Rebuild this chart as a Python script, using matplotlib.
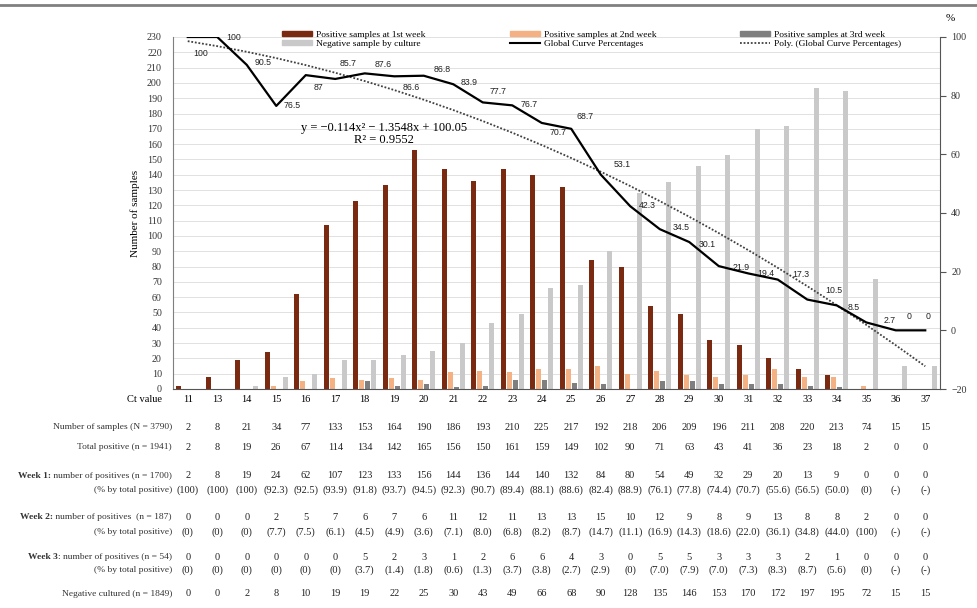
import matplotlib
matplotlib.use('Agg')
import matplotlib.pyplot as plt
import matplotlib.transforms as mtransforms
from matplotlib.lines import Line2D
from matplotlib.patches import Patch
import numpy as np

plt.rcParams['font.family'] = 'Liberation Serif'

# ---- data ----
ct_values = [11, 13, 14, 15, 16, 17, 18, 19, 20, 21, 22, 23, 24, 25, 26,
             27, 28, 29, 30, 31, 32, 33, 34, 35, 36, 37]
n_samples = [2, 8, 21, 34, 77, 133, 153, 164, 190, 186, 193, 210, 225, 217,
             192, 218, 206, 209, 196, 211, 208, 220, 213, 74, 15, 15]
total_pos = [2, 8, 19, 26, 67, 114, 134, 142, 165, 156, 150, 161, 159, 149,
             102, 90, 71, 63, 43, 41, 36, 23, 18, 2, 0, 0]
week1 = [2, 8, 19, 24, 62, 107, 123, 133, 156, 144, 136, 144, 140, 132,
         84, 80, 54, 49, 32, 29, 20, 13, 9, 0, 0, 0]
week1_pct = [100, 100, 100, 92.3, 92.5, 93.9, 91.8, 93.7, 94.5, 92.3, 90.7,
             89.4, 88.1, 88.6, 82.4, 88.9, 76.1, 77.8, 74.4, 70.7, 55.6, 56.5,
             50.0, 0, None, None]
week2 = [0, 0, 0, 2, 5, 7, 6, 7, 6, 11, 12, 11, 13, 13, 15, 10, 12, 9, 8, 9,
         13, 8, 8, 2, 0, 0]
week2_pct = [0, 0, 0, 7.7, 7.5, 6.1, 4.5, 4.9, 3.6, 7.1, 8.0, 6.8, 8.2, 8.7,
             14.7, 11.1, 16.9, 14.3, 18.6, 22.0, 36.1, 34.8, 44.0, 100, None, None]
week3 = [0, 0, 0, 0, 0, 0, 5, 2, 3, 1, 2, 6, 6, 4, 3, 0, 5, 5, 3, 3, 3, 2, 1,
         0, 0, 0]
week3_pct = [0, 0, 0, 0, 0, 0, 3.7, 1.4, 1.8, 0.6, 1.3, 3.7, 3.8, 2.7, 2.9, 0,
             7.0, 7.9, 7.0, 7.3, 8.3, 8.7, 5.6, 0, None, None]
negative = [0, 0, 2, 8, 10, 19, 19, 22, 25, 30, 43, 49, 66, 68, 90, 128, 135,
            146, 153, 170, 172, 197, 195, 72, 15, 15]
global_pct = [100, 100, 90.5, 76.5, 87, 85.7, 87.6, 86.6, 86.8, 83.9, 77.7,
              76.7, 70.7, 68.7, 53.1, 42.3, 34.5, 30.1, 21.9, 19.4, 17.3, 10.5,
              8.5, 2.7, 0, 0]

# label offsets (pixels) for the percentage data labels
label_offsets = [(13, -16), (16, 0), (16, 2), (16, 0), (13, -12), (13, 15),
                 (18, 9), (17, -11), (18, 6), (16, 2), (15, 11), (17, 1),
                 (16, -10), (14, 12), (21, 10), (17, 1), (21, 2), (18, -2),
                 (22, -1), (18, 0), (23, 5), (27, 9), (17, -2), (23, 2),
                 (13, 14), (3, 14)]

c_wk1 = '#7B2A12'
c_wk2 = '#F4B183'
c_wk3 = '#7F7F7F'
c_neg = '#C9C9C9'

W, H = 978, 608
fig = plt.figure(figsize=(W / 100, H / 100), dpi=100)
ax = fig.add_axes([173 / W, 1 - 389 / H, (940 - 173) / W, (389 - 37) / H])

x = np.arange(len(ct_values))
bw = 0.17
ax.bar(x - 0.3, week1, bw, color=c_wk1, zorder=2)
ax.bar(x - 0.1, week2, bw, color=c_wk2, zorder=2)
ax.bar(x + 0.1, week3, bw, color=c_wk3, zorder=2)
ax.bar(x + 0.3, negative, bw, color=c_neg, zorder=2)

ax.set_xlim(-0.5, len(ct_values) - 0.5)
ax.set_ylim(0, 230)
ax.set_yticks(range(0, 231, 10))
ax.grid(axis='y', color='#DCDCDC', lw=0.6, zorder=0)
ax.set_axisbelow(True)
ax.set_xticks(x)
ax.set_xticklabels([str(c) for c in ct_values], fontsize=7.5)
ax.tick_params(axis='x', length=0, pad=4)
ax.tick_params(axis='y', length=0, pad=8, labelsize=7.2, labelcolor='#333333')
for s in ['top', 'right']:
    ax.spines[s].set_visible(False)
ax.spines['left'].set_color('#7F7F7F')
ax.spines['bottom'].set_color('#555555')
ax.set_ylabel('Number of samples', fontsize=8, labelpad=5)

ax2 = ax.twinx()
ax2.set_ylim(-20, 100)
ax2.set_yticks(range(-20, 101, 20))
ax2.tick_params(axis='y', length=4, width=0.8, color='#555555', pad=4,
                labelsize=7.2, labelcolor='#333333')
for s in ['top', 'left', 'bottom']:
    ax2.spines[s].set_visible(False)
ax2.spines['right'].set_color('#555555')
ax2.text(1.013, 1.045, '%', transform=ax2.transAxes, fontsize=8, ha='center')

ax2.plot(x, global_pct, color='black', lw=1.6, zorder=4)
xi = x + 1
coef = np.polyfit(xi, global_pct, 2)
ax2.plot(x, np.polyval(coef, xi), color='#404040', lw=1.3, ls=(0, (1, 1)), zorder=3)

for i, v in enumerate(global_pct):
    dx, dy = label_offsets[i]
    ax2.annotate(f'{v:g}', (x[i], v), xytext=(dx * 0.72, dy * 0.72),
                 textcoords='offset points', ha='center', va='center',
                 fontsize=6.3, family='Liberation Sans', color='#222222')

ax2.text(0.275, 0.725, 'y = \u22120.114x\u00b2 \u2212 1.3548x + 100.05\nR\u00b2 = 0.9552',
         transform=ax2.transAxes, ha='center', va='center', fontsize=9,
         linespacing=1.0)

# legend (three columns)
leg_cols = [
    [Patch(color=c_wk1), Patch(color=c_neg)],
    [Patch(color=c_wk2), Line2D([], [], color='black', lw=1.5)],
    [Patch(color=c_wk3), Line2D([], [], color='#404040', lw=1.3, ls=(0, (1, 1)))],
]
leg_labels = [
    ['Positive samples at 1st week', 'Negative sample by culture'],
    ['Positive samples at 2nd week', 'Global Curve Percentages'],
    ['Positive samples at 3rd week', 'Poly. (Global Curve Percentages)'],
]
for hx, hs, ls in zip([282, 510, 740], leg_cols, leg_labels):
    lg = fig.legend(hs, ls, loc='upper left', bbox_to_anchor=(hx / W, 1 - 31 / H),
                    frameon=False, fontsize=6.8, borderpad=0, borderaxespad=0,
                    handlelength=3.2, handleheight=0.45, handletextpad=0.4,
                    labelspacing=0.1)

# top rule
fig.add_artist(Line2D([0, 1], [1 - 5 / H, 1 - 5 / H], color='#808080', lw=2,
                      transform=fig.transFigure))

# table below the axis
trans = mtransforms.blended_transform_factory(ax.transData, fig.transFigure)
lab_x = 172 / W
fig.text(lab_x - 10 / W, 1 - 400 / H, 'Ct value', ha='right', va='center', fontsize=7.5)


def fmt_pct(v):
    if v is None:
        return '(-)'
    if v in (0, 100):
        return f'({v:.0f})'
    return f'({v:.1f})'


rows = [
    ('', 'Number of samples (N = 3790)', [str(v) for v in n_samples], 427),
    ('', 'Total positive (n = 1941)', [str(v) for v in total_pos], 447),
    ('Week 1:', ' number of positives (n = 1700)', [str(v) for v in week1], 476),
    ('', '(% by total positive)', [fmt_pct(v) for v in week1_pct], 490),
    ('Week 2:', ' number of positives  (n = 187)', [str(v) for v in week2], 517),
    ('', '(% by total positive)', [fmt_pct(v) for v in week2_pct], 532),
    ('Week 3', ': number of positives (n = 54)', [str(v) for v in week3], 557),
    ('', '(% by total positive)', [fmt_pct(v) for v in week3_pct], 570),
    ('', 'Negative cultured (n = 1849)', [str(v) for v in negative], 594),
]
renderer = fig.canvas.get_renderer()
for bold, label, vals, ypx in rows:
    yf = 1 - ypx / H
    t = fig.text(lab_x, yf, label, ha='right', va='center', fontsize=6.8, color='#333333')
    if bold:
        bb = t.get_window_extent(renderer)
        fig.text(bb.x0 / W, yf, bold, ha='right', va='center', fontsize=6.8,
                 fontweight='bold', color='#333333')
    for i, s in enumerate(vals):
        fig.text(x[i], yf, s, transform=trans, ha='center', va='center',
                 fontsize=7.5, color='#222222')

fig.savefig('out.png', dpi=100)
